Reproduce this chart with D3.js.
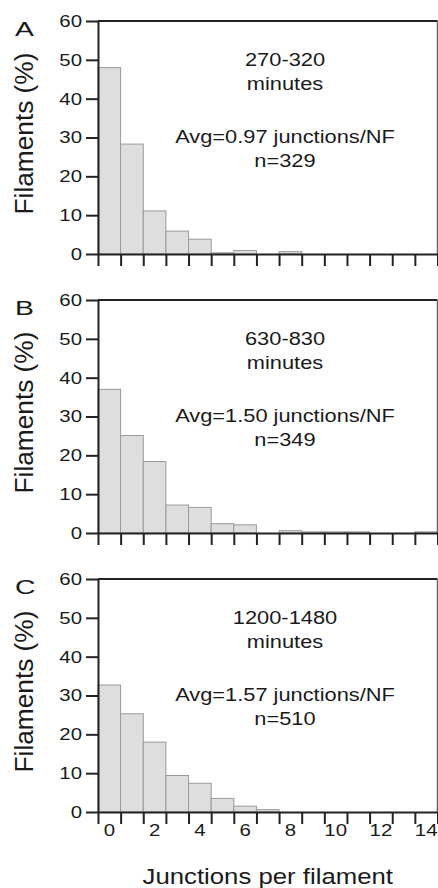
<!DOCTYPE html>
<html>
<head>
<meta charset="utf-8">
<script src="https://cdn.jsdelivr.net/npm/d3@7"></script>
<style>
  body { margin: 0; background: #fff; }
  svg { display: block; }
  text { font-family: "Liberation Sans", Arial, sans-serif; fill: #1a1a1a; }
</style>
</head>
<body>
<div id="chart"></div>
<script>
// data
const junctions = [0, 1, 2, 3, 4, 5, 6, 7, 8, 9, 10, 11, 12, 13, 14];
const panelA = [48.0, 28.3, 11.1, 5.9, 3.8, 0.3, 0.9, 0, 0.6, 0, 0, 0, 0, 0, 0];
const panelB = [37.0, 25.1, 18.4, 7.2, 6.6, 2.4, 2.1, 0, 0.6, 0.3, 0.3, 0.3, 0, 0, 0.3];
const panelC = [32.7, 25.3, 18.0, 9.4, 7.4, 3.5, 1.5, 0.6, 0, 0, 0, 0, 0, 0, 0];
const panelLetters = ["A", "B", "C"];
const timeRanges = ["270-320", "630-830", "1200-1480"];
const averages = ["0.97", "1.50", "1.57"];
const counts = [329, 349, 510];
const yTicks = [0, 10, 20, 30, 40, 50, 60];
const xTickLabels = [0, 2, 4, 6, 8, 10, 12, 14];

const panels = [panelA, panelB, panelC];

const W = 438, H = 888;
const left = 98, right = 437.5;
const panelTop = 21, panelStep = 279, panelH = 233;

const svg = d3.select("#chart").append("svg")
  .attr("width", W)
  .attr("height", H);

// the original lettering is wider than Arial, so stretch it a bit
function label(g, x, y, txt, size, sx, anchor, rotate) {
  const t = g.append("g")
    .attr("transform", `translate(${x},${y})` + (rotate ? " rotate(-90)" : "") + ` scale(${sx},1)`)
    .append("text")
    .attr("text-anchor", anchor)
    .attr("font-size", size)
    .text(txt);
  return t;
}

const x = d3.scaleLinear()
  .domain([-0.5, 14.5])
  .range([left, right]);

panels.forEach((values, i) => {
  const top = panelTop + i * panelStep;
  const y = d3.scaleLinear()
    .domain([0, 60])
    .range([top + panelH, top]);

  const g = svg.append("g");

  // bars
  g.append("g")
    .selectAll("rect")
    .data(values.map((v, k) => ({k: junctions[k], v: v})).filter(d => d.v > 0))
    .join("rect")
      .attr("x", d => x(d.k - 0.5))
      .attr("y", d => y(d.v))
      .attr("width", d => x(d.k + 0.5) - x(d.k - 0.5))
      .attr("height", d => y(0) - y(d.v))
      .attr("fill", "#dedede")
      .attr("stroke", "#9a9a9a")
      .attr("stroke-width", 1);

  // frame: top and right edges
  g.append("line")
    .attr("x1", x(-0.5)).attr("x2", x(14.5))
    .attr("y1", y(60)).attr("y2", y(60))
    .attr("stroke", "#222").attr("stroke-width", 2);
  g.append("line")
    .attr("x1", x(14.5)).attr("x2", x(14.5))
    .attr("y1", y(60)).attr("y2", y(0))
    .attr("stroke", "#666").attr("stroke-width", 1.5);

  // y axis
  const ya = g.append("g")
    .attr("transform", `translate(${left},0)`)
    .call(d3.axisLeft(y).tickValues(yTicks).tickSize(12).tickSizeOuter(0));
  ya.selectAll("text")
    .attr("x", -16 / 1.2)
    .attr("transform", "scale(1.2,1)")
    .attr("font-size", 17)
    .attr("font-family", "Liberation Sans, Arial, sans-serif")
    .attr("fill", "#1a1a1a");

  // x axis ticks at bin edges
  const xa = g.append("g")
    .attr("transform", `translate(0,${y(0)})`)
    .call(d3.axisBottom(x).tickValues(d3.range(-0.5, 15, 1)).tickSize(12).tickSizeOuter(0).tickFormat(""));

  [ya, xa].forEach(a => {
    a.select(".domain").attr("stroke", "#222").attr("stroke-width", 2);
    a.selectAll(".tick line").attr("stroke", "#222").attr("stroke-width", 2);
  });

  // x labels only on the bottom panel
  if (i === panels.length - 1) {
    const xl = g.append("g")
      .attr("transform", `translate(0,${y(0)})`)
      .call(d3.axisBottom(x).tickValues(xTickLabels).tickSize(0).tickPadding(12));
    xl.select(".domain").remove();
    xl.selectAll("text")
      .attr("transform", "scale(1.2,1)")
      .attr("x", d => 0)
      .attr("font-size", 17)
      .attr("font-family", "Liberation Sans, Arial, sans-serif")
      .attr("fill", "#1a1a1a");
    xl.selectAll(".tick").attr("transform", d => `translate(${x(d)},0)`);
  }

  // panel letter
  label(g, 15, top + 15, panelLetters[i], 21, 1.35, "start");

  // y axis title
  label(g, 33, top + panelH / 2 - 4, "Filaments (%)", 25, 1.05, "middle", true);

  // annotations
  const cx = 285;
  label(g, cx, top + 45, timeRanges[i], 18.5, 1.18, "middle");
  label(g, cx, top + 69, "minutes", 18.5, 1.18, "middle");
  label(g, cx, top + 122, `Avg=${averages[i]} junctions/NF`, 18.5, 1.18, "middle");
  label(g, cx, top + 146, `n=${counts[i]}`, 18.5, 1.18, "middle");
});

// x axis title
label(svg, (left + right) / 2, 884, "Junctions per filament", 23, 1.12, "middle");
</script>
</body>
</html>
